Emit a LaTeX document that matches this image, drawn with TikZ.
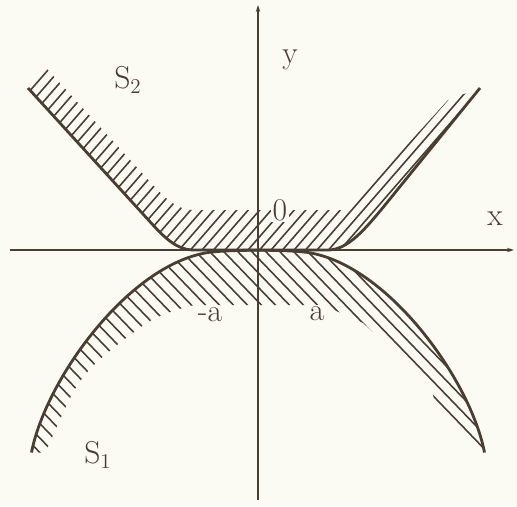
\documentclass[tikz,border=0pt]{standalone}
\usepackage{tikz}
\usetikzlibrary{arrows.meta, positioning}

\definecolor{ink}{RGB}{72,62,52}
\definecolor{paper}{RGB}{251,251,244}

\tikzset{
    axis/.style={draw=ink, line width=0.65pt, -{Stealth[length=4pt, width=2.5pt]}},
    bound/.style={draw=ink, line width=1.6pt, line join=round},
    hatch/.style={draw=ink, line width=0.9pt},
    lbl/.style={text=ink, font=\fontsize{18}{20}\selectfont, fill=paper, inner sep=1pt}
}

\begin{document}
\begin{tikzpicture}
    % paper and frame
    \fill[paper] (-5.16,-5.12) rectangle (5.18,5.0);

    % hatched band above S2 boundary
    \begin{scope}
        \clip (-4.6,3.24) -- (-2.1,0.5) .. controls (-1.85,0.226) and (-1.6,0) .. (-1.3,0)
              -- (1.4,0) .. controls (1.8,0) and (2.15,0.43) .. (2.5,0.85) -- (4.44,3.24)
              -- (3.8,3.0) -- (1.8,0.8) -- (-1.3,0.8)
              .. controls (-1.6,0.8) and (-1.85,1.026) .. (-2.1,1.3) -- (-4.3,3.71) -- cycle;
        \foreach \k in {-40,...,3}
            \draw[hatch] ({1.18+0.23*\k},0) ++(229:6) -- ++(49:14);
    \end{scope}

    % hatched band below S1 boundary
    \begin{scope}
        \clip (-4.53,-4.05) .. controls (-4.25,-2.6) and (-2.6,-0.3) .. (-1.0,-0.05)
              .. controls (-0.6,0.01) and (0.6,0.01) .. (1.0,-0.05)
              .. controls (2.6,-0.3) and (4.25,-2.6) .. (4.53,-4.05)
              -- (3.55,-3.1) -- (3.45,-2.7) -- (2.1,-1.46) -- (1.3,-1.1) -- (-1.1,-1.1)
              -- plot[smooth] coordinates {(-1.1,-1.1) (-1.4,-1.13) (-2.16,-1.42)
                  (-3.2,-2.22) (-3.7,-2.85) (-4.25,-4.05)} -- cycle;
        \foreach \k in {-34,...,3}
            \draw[hatch] ({0.965+0.28*\k},0) ++(134:8) -- ++(-46:16);
    \end{scope}

    % boundary curves
    \draw[bound] (-4.6,3.24) -- (-2.1,0.5) .. controls (-1.85,0.226) and (-1.6,0) .. (-1.3,0)
        -- (1.4,0) .. controls (1.8,0) and (2.15,0.43) .. (2.5,0.85) -- (4.44,3.24);
    \draw[bound] (-4.53,-4.05) .. controls (-4.25,-2.6) and (-2.6,-0.3) .. (-1.0,-0.05)
        .. controls (-0.6,0.01) and (0.6,0.01) .. (1.0,-0.05)
        .. controls (2.6,-0.3) and (4.25,-2.6) .. (4.53,-4.05);

    % axes
    \coordinate (xl) at (-4.96,0);
    \coordinate (xr) at (5.12,0);
    \coordinate (yb) at (0,-5.0);
    \coordinate (yt) at (0,4.9);
    \draw[axis] (xl) -- (xr);
    \draw[axis] (yb) -- (yt);

    % labels
    \node[lbl] (lbly) at (0.64,3.8) {y};
    \node[lbl] (lblx) at (4.74,0.62) {x};
    \node[lbl] (orig) at (0.44,0.8) {0};
    \node[lbl] (mina) at (-0.96,-1.3) {-a};
    \node[lbl] (plsa) at (1.18,-1.28) {a};
    \node[lbl, fill=none] (sup) at (-2.6,3.4) {S$_2$};
    \node[lbl, fill=none] (sdn) at (-3.2,-4.1) {S$_1$};
\end{tikzpicture}
\end{document}
